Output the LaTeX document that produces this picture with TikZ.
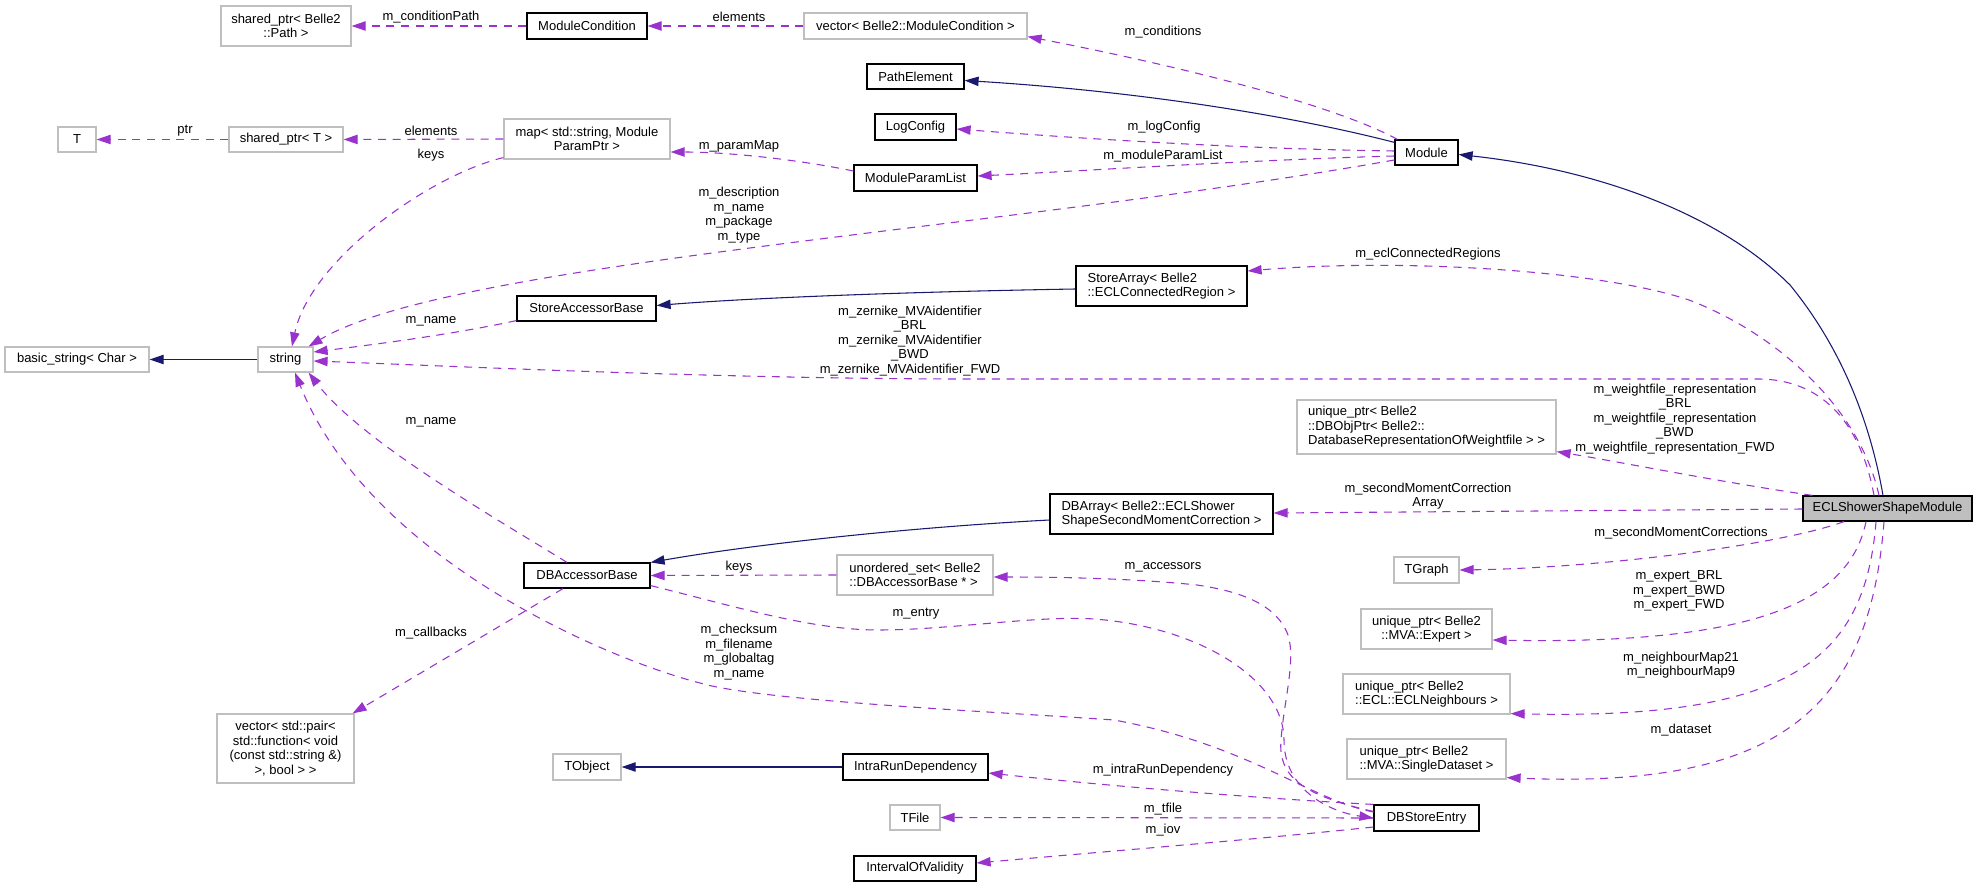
\documentclass[tikz,border=0pt]{standalone}
\usepackage{fontspec}
\setmainfont{Liberation Sans}
\usetikzlibrary{arrows.meta,calc}
\definecolor{navyc}{HTML}{191970}
\definecolor{purpc}{HTML}{9A32CD}
\definecolor{grayb}{HTML}{BFBFBF}
\newcommand\dxf{\fontsize{9.75pt}{10.9pt}\selectfont}
\newcommand\mkbox[7]{\node[#1, minimum width={(#5-#3)*0.75pt}, minimum height={(#6-#4)*0.75pt}] (#2) at ({(#3+#5)/2},{(#4+#6)/2}) {#7};}
\begin{document}
\begin{tikzpicture}[x=0.75pt,y=-0.75pt,
  box/.style={draw, inner sep=0pt, font=\dxf, text=black},
  docb/.style={box, draw=black, line width=0.9pt},
  udocb/.style={box, draw=grayb, line width=0.9pt},
  inh/.style={draw=navyc, line width=0.8pt, -{Triangle[length=10.5pt,width=7pt]}},
  usg/.style={draw=purpc, line width=0.8pt, dash pattern=on 6pt off 5pt, -{Triangle[length=10.5pt,width=7pt]}},
  lab/.style={font=\dxf, align=center, inner sep=0pt, text=black}]
\fill[white] (0,0) rectangle (1977,887);
\useasboundingbox (0,0) rectangle (1977,887);
% nodes
\mkbox{udocb,align=center}{shpath}{221}{6}{351}{46}{shared\_ptr< Belle2\\::Path >}
\mkbox{docb}{modcond}{527}{13}{647}{39}{ModuleCondition}
\mkbox{udocb}{vecmc}{804}{13}{1027}{39}{vector< Belle2::ModuleCondition >}
\mkbox{udocb}{tT}{58}{127}{96}{152}{T}
\mkbox{udocb}{shT}{229}{127}{343}{152}{shared\_ptr< T >}
\mkbox{udocb,align=center}{map}{504}{119}{670}{159}{map< std::string, Module\\ParamPtr >}
\mkbox{docb}{pathel}{867}{64}{964}{89}{PathElement}
\mkbox{docb}{logcfg}{875}{114}{956}{140}{LogConfig}
\mkbox{docb}{mpl}{854}{165}{977}{191}{ModuleParamList}
\mkbox{docb}{module}{1395}{140}{1458}{165}{Module}
\mkbox{docb,align=left}{starr}{1076}{266}{1247}{306}{StoreArray< Belle2\\::ECLConnectedRegion >}
\mkbox{docb,fill=grayb}{ecl}{1803}{496}{1972}{521}{ECLShowerShapeModule}
\mkbox{docb}{sab}{517}{296}{656}{321}{StoreAccessorBase}
\mkbox{udocb}{basic}{5}{347}{149}{372}{basic\_string< Char >}
\mkbox{udocb}{str}{258}{347}{313}{372}{string}
\mkbox{udocb,align=left}{dbobj}{1297}{400}{1556}{454}{unique\_ptr< Belle2\\::DBObjPtr< Belle2::\\DatabaseRepresentationOfWeightfile > >}
\mkbox{docb,align=left}{dbarr}{1050}{494}{1273}{534}{DBArray< Belle2::ECLShower\\ShapeSecondMomentCorrection >}
\mkbox{docb}{dbab}{524}{563}{650}{588}{DBAccessorBase}
\mkbox{udocb,align=left}{uset}{837}{555}{993}{595}{unordered\_set< Belle2\\::DBAccessorBase * >}
\mkbox{udocb}{tgraph}{1394}{557}{1459}{583}{TGraph}
\mkbox{udocb,align=center}{expert}{1361}{609}{1492}{649}{unique\_ptr< Belle2\\::MVA::Expert >}
\mkbox{udocb,align=left}{neigh}{1343}{674}{1510}{714}{unique\_ptr< Belle2\\::ECL::ECLNeighbours >}
\mkbox{udocb,align=left}{single}{1347}{739}{1506}{779}{unique\_ptr< Belle2\\::MVA::SingleDataset >}
\mkbox{udocb,align=center}{vpair}{217}{714}{354}{783}{vector< std::pair<\\std::function< void\\(const std::string \&)\\>, bool > >}
\mkbox{udocb}{tobj}{553}{754}{621}{780}{TObject}
\mkbox{docb}{intra}{843}{754}{988}{780}{IntraRunDependency}
\mkbox{udocb}{tfile}{890}{805}{940}{830}{TFile}
\mkbox{docb}{iov}{854}{856}{976}{881}{IntervalOfValidity}
\mkbox{docb}{dbse}{1374}{805}{1479}{831}{DBStoreEntry}
% inheritance
\draw[inh] ($(module.north west)+(0,3)$) .. controls (1300,118) and (1150,92) .. ($(pathel.east)+(0,4)$);
\draw[inh] ($(ecl.north)+(-4.5,0)$) .. controls (1868,410) and (1835,340) .. (1790,285) .. controls (1720,215) and (1600,170) .. ($(module.east)+(0,2)$);
\draw[inh] ($(starr.west)+(0,3)$) .. controls (900,292) and (750,298) .. ($(sab.east)+(0,-3)$);
\draw[inh] (str.west) -- (basic.east);
\draw[inh] ($(dbarr.west)+(0,6)$) .. controls (900,528) and (750,545) .. (dbab.north east);
\draw[inh] (intra.west) -- (tobj.east);
% usage
\draw[usg] (modcond.west) -- (shpath.east);
\draw[usg] (vecmc.west) -- (modcond.east);
\draw[usg] ($(module.north west)+(3,0)$) .. controls (1340,108) and (1200,70) .. ($(vecmc.south east)+(0,-3)$);
\draw[usg] (shT.west) -- (tT.east);
\draw[usg] (map.west) -- (shT.east);
\draw[usg] ($(map.south west)+(0,-2)$) .. controls (430,175) and (310,260) .. ($(str.north)+(6.5,0)$);
\draw[usg] ($(mpl.west)+(0,-7)$) .. controls (800,160) and (730,152) .. ($(map.east)+(0,13)$);
\draw[usg] ($(module.west)+(0,-1.5)$) .. controls (1250,149) and (1100,140) .. ($(logcfg.east)+(0,2)$);
\draw[usg] ($(module.west)+(0,3.5)$) .. controls (1250,160) and (1100,170) .. ($(mpl.east)+(0,-2)$);
\draw[usg] ($(module.west)+(0,7.5)$) .. controls (1000,230) and (450,262) .. ($(str.north east)+(-5,0)$);
\draw[usg] ($(ecl.north)+(-8.5,0)$) .. controls (1860,410) and (1780,335) .. (1689,300) .. controls (1600,270) and (1400,258) .. ($(starr.east)+(0,-15)$);
\draw[usg] ($(ecl.north)+(-13.5,0)$) .. controls (1860,420) and (1820,380) .. (1760,379) -- (950,379) .. controls (700,378) and (450,366) .. ($(str.east)+(0,1.5)$);
\draw[usg] ($(sab.south west)+(0,-1)$) .. controls (450,335) and (370,345) .. ($(str.east)+(0,-7.5)$);
\draw[usg] ($(dbab.north)+(-20,0)$) .. controls (490,515) and (360,440) .. ($(str.south east)+(-5,0)$);
\draw[usg] ($(dbse.west)+(0,-6)$) .. controls (1310,800) and (1250,745) .. (1114,720) .. controls (1000,712) and (760,701) .. (700,683) .. controls (610,660) and (370,560) .. ($(str.south)+(9.5,0)$);
\draw[usg] ($(dbab.south east)+(0,-3)$) .. controls (730,605) and (810,630) .. (878,630) .. controls (950,630) and (1040,615) .. (1094,619) .. controls (1200,627) and (1284,680) .. (1284,740) .. controls (1284,790) and (1330,812) .. (dbse.west);
\draw[usg] ($(dbse.north west)+(0,7)$) .. controls (1300,795) and (1278,775) .. (1281,740) .. controls (1284,700) and (1296,660) .. (1288,635) .. controls (1275,600) and (1230,590) .. (1197,585) .. controls (1130,578) and (1050,577) .. ($(uset.east)+(0,2)$);
\draw[usg] (dbse.north west) .. controls (1250,798) and (1100,785) .. ($(intra.east)+(0,6)$);
\draw[usg] (dbse.west) -- (tfile.east);
\draw[usg] ($(dbse.west)+(0,9)$) .. controls (1250,840) and (1100,852) .. ($(iov.east)+(0,-5.5)$);
\draw[usg] ($(dbab.south)+(-24,0)$) -- ($(vpair.north east)+(-2,0)$);
\draw[usg] (uset.west) -- (dbab.east);
\draw[usg] ($(ecl.west)+(0,0.5)$) -- ($(dbarr.east)+(0,-1)$);
\draw[usg] ($(ecl.north west)+(10,0)$) .. controls (1720,482) and (1620,462) .. ($(dbobj.south east)+(0,-3)$);
\draw[usg] ($(ecl.south)+(-43.5,0)$) .. controls (1780,545) and (1600,568) .. (tgraph.east);
\draw[usg] ($(ecl.south)+(-21.5,0)$) .. controls (1850,600) and (1760,645) .. ($(expert.east)+(0,11)$);
\draw[usg] ($(ecl.south)+(-11.5,0)$) .. controls (1865,660) and (1790,720) .. ($(neigh.south east)+(0,-1)$);
\draw[usg] ($(ecl.south)+(-3.5,0)$) .. controls (1870,700) and (1790,790) .. ($(single.south east)+(0,-2)$);
% labels
\node[lab] (l1) at (431,17) {m\_conditionPath};
\node[lab] (l2) at (739,17) {elements};
\node[lab] (l3) at (1163,32) {m\_conditions};
\node[lab] (l4) at (185,131) {ptr};
\node[lab] (l5) at (431,131) {elements};
\node[lab] (l6) at (431,155) {keys};
\node[lab] (l7) at (1164,127) {m\_logConfig};
\node[lab] (l8) at (739,146) {m\_paramMap};
\node[lab] (l9) at (1163,156) {m\_moduleParamList};
\node[lab] (l10) at (739,215) {m\_description\\m\_name\\m\_package\\m\_type};
\node[lab] (l11) at (1428,254) {m\_eclConnectedRegions};
\node[lab] (l12) at (910,341) {m\_zernike\_MVAidentifier\\\_BRL\\m\_zernike\_MVAidentifier\\\_BWD\\m\_zernike\_MVAidentifier\_FWD};
\node[lab] (l13) at (431,321) {m\_name};
\node[lab] (l14) at (1675,419) {m\_weightfile\_representation\\\_BRL\\m\_weightfile\_representation\\\_BWD\\m\_weightfile\_representation\_FWD};
\node[lab] (l15) at (431,422) {m\_name};
\node[lab] (l16) at (1428,496) {m\_secondMomentCorrection\\Array};
\node[lab] (l17) at (1681,533) {m\_secondMomentCorrections};
\node[lab] (l18) at (739,567) {keys};
\node[lab] (l19) at (1163,567) {m\_accessors};
\node[lab] (l20) at (1679,591) {m\_expert\_BRL\\m\_expert\_BWD\\m\_expert\_FWD};
\node[lab] (l21) at (916,614) {m\_entry};
\node[lab] (l22) at (739,652) {m\_checksum\\m\_filename\\m\_globaltag\\m\_name};
\node[lab] (l23) at (431,633) {m\_callbacks};
\node[lab] (l24) at (1681,665) {m\_neighbourMap21\\m\_neighbourMap9};
\node[lab] (l25) at (1681,730) {m\_dataset};
\node[lab] (l26) at (1163,770) {m\_intraRunDependency};
\node[lab] (l27) at (1163,809) {m\_tfile};
\node[lab] (l28) at (1163,830) {m\_iov};
\end{tikzpicture}
\end{document}
